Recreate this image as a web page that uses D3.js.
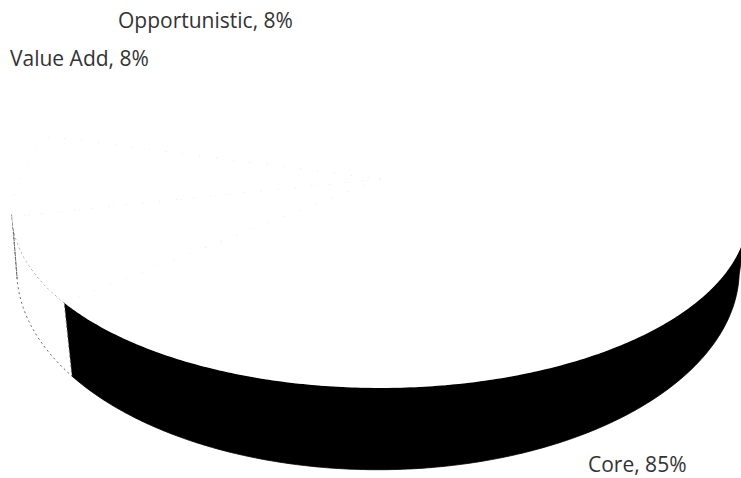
<!DOCTYPE html>
<html>
<head>
<meta charset="utf-8">
<script src="https://cdn.jsdelivr.net/npm/d3@7"></script>
<style>
  html, body { margin: 0; padding: 0; background: #ffffff; }
  svg { display: block; }
  text { font-family: "Open Sans", "Noto Sans", sans-serif; }
</style>
</head>
<body>
<script>
// ---- data ----
const categories = ["Core", "Value Add", "Opportunistic"];
const values = [84.6, 7.7, 7.7];
const sideFill = ["#000000", "#ffffff", "#ffffff"];

// ---- layout ----
const W = 741, H = 478;
const topFace = { cx: 380, cy: 179, a: 361, b: 168.4, k: 0.194 };
const botFace = { cx: 378, cy: 236, a: 356, b: 194, k: 0.17 };
const startDeg = -74.6;            // d3.pie start angle (0 = 12 o'clock)
const labelPos = [                  // [x, baseline] for each label
  [588, 471.5], [10, 66], [118, 28]
];

const svg = d3.select("body").append("svg")
  .attr("width", W).attr("height", H)
  .attr("viewBox", `0 0 ${W} ${H}`);

const total = d3.sum(values);
const data = categories.map((c, i) => ({ name: c, value: values[i], i }));

const pie = d3.pie().sort(null).value(d => d.value)
  .startAngle(startDeg * Math.PI / 180)
  .endAngle(startDeg * Math.PI / 180 + 2 * Math.PI);
const arcs = pie(data);

// perspective projection of a unit-circle angle onto a face
function proj(f, th) {
  const s = 1 - f.k * Math.sin(th);
  return [f.cx + f.a * Math.cos(th) / s, f.cy + f.b * Math.sin(th) / s];
}
const toTheta = a => a - Math.PI / 2;
const line = d3.line();
function samples(t0, t1) {
  const n = Math.max(2, Math.ceil(Math.abs(t1 - t0) / 0.01));
  return d3.range(n + 1).map(j => t0 + (t1 - t0) * j / n);
}

// visible side range (front half, between silhouettes)
const vis0 = Math.asin(topFace.k), vis1 = Math.PI - Math.asin(topFace.k);

const gSide = svg.append("g");
arcs.forEach(d => {
  let t0 = toTheta(d.startAngle), t1 = toTheta(d.endAngle);
  for (let shift = -2; shift <= 2; shift++) {
    const a0 = Math.max(t0 + shift * 2 * Math.PI, vis0);
    const a1 = Math.min(t1 + shift * 2 * Math.PI, vis1);
    if (a1 - a0 > 0.002) {
      const ts = samples(a0, a1);
      const pts = ts.map(t => proj(topFace, t))
        .concat(ts.slice().reverse().map(t => proj(botFace, t)));
      const isCore = d.data.i === 0;
      gSide.append("path")
        .attr("d", line(pts) + "Z")
        .attr("fill", sideFill[d.data.i])
        .attr("stroke", isCore ? "#000" : "#666")
        .attr("stroke-width", isCore ? 0.8 : 1)
        .attr("stroke-dasharray", isCore ? null : "2,3");
    }
  }
});

// top face
const center = [topFace.cx, topFace.cy];
const gTop = svg.append("g");
arcs.forEach(d => {
  const ts = samples(toTheta(d.startAngle), toTheta(d.endAngle));
  const pts = [center].concat(ts.map(t => proj(topFace, t)));
  gTop.append("path")
    .attr("d", line(pts) + "Z")
    .attr("fill", "#ffffff")
    .attr("stroke", d.data.i === 0 ? "none" : "#d6d6d6")
    .attr("stroke-width", 0.6)
    .attr("stroke-dasharray", "1,16");
});

// labels
const fmt = d3.format(".0%");
data.forEach((d, i) => {
  svg.append("text")
    .attr("x", labelPos[i][0])
    .attr("y", labelPos[i][1])
    .attr("font-size", 21)
    .attr("fill", "#333333")
    .text(`${d.name}, ${fmt(d.value / total)}`);
});
</script>
</body>
</html>
